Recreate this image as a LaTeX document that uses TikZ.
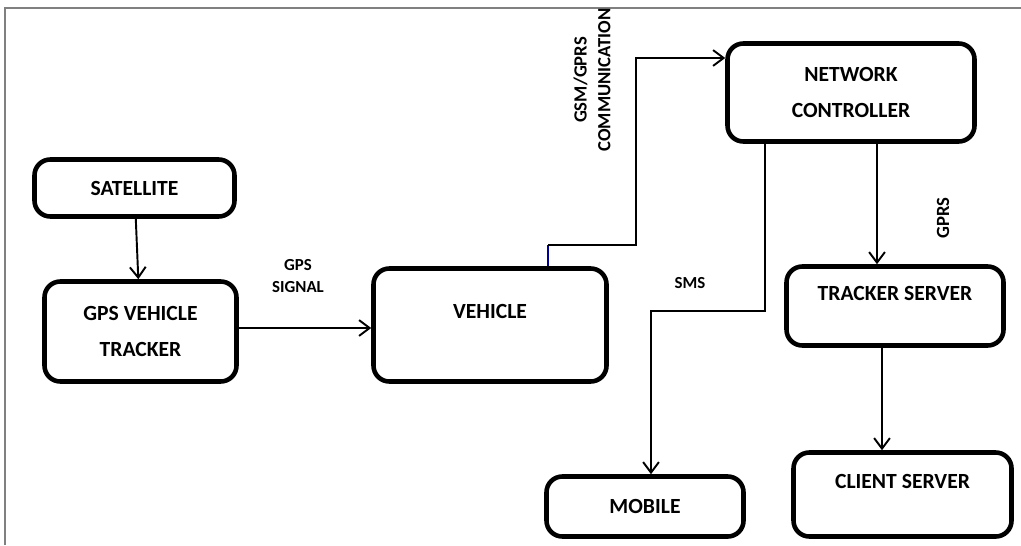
\documentclass[tikz,border=0pt]{standalone}
\usepackage{fontspec}
\setmainfont{Carlito}
\usepackage{tikz}
\usetikzlibrary{arrows.meta}

\newcommand{\boxfont}{\fontsize{12.3}{20.4}\selectfont\bfseries}
\newcommand{\tagfont}{\fontsize{9.6}{13}\selectfont\bfseries}
\newcommand{\sidefont}{\fontsize{10.6}{13.6}\selectfont\bfseries}

\begin{document}
\begin{tikzpicture}[align=center,
  box/.style={draw, line width=2.6pt, rounded corners=9pt, font=\boxfont, inner sep=0pt},
  tag/.style={font=\tagfont, inner sep=0pt},
  sidetag/.style={font=\sidefont, inner sep=0pt, rotate=90},
  link/.style={line width=1.1pt, -{Straight Barb[length=6pt,width=9pt,line width=1.1pt]}}]
\useasboundingbox (0,0) rectangle (20.42,10.9);
%frame
\draw[gray, line width=0.6pt] (0.1,0) -- (0.1,10.74) -- (20.42,10.74);

%nodes
\node (SAT) [box, minimum width=4.0cm, minimum height=1.14cm] at (2.69,7.14) {SATELLITE};
\node (GVT) [box, minimum width=3.84cm, minimum height=2.0cm] at (2.81,4.27) {GPS VEHICLE\\TRACKER};
\node (VEH) [box, minimum width=4.66cm, minimum height=2.26cm, text depth=15pt] at (9.8,4.4) {VEHICLE};
\node (NC) [box, minimum width=4.94cm, minimum height=1.96cm] at (17.02,9.05) {NETWORK\\CONTROLLER};
\node (TS) [box, minimum width=4.34cm, minimum height=1.58cm, text depth=14pt] at (17.9,4.78) {TRACKER SERVER};
\node (MOB) [box, minimum width=3.94cm, minimum height=1.2cm] at (12.9,0.77) {MOBILE};
\node (CS) [box, minimum width=4.36cm, minimum height=1.68cm, text depth=15pt] at (18.05,1.01) {CLIENT SERVER};

\node (gpssig) [tag] at (5.96,5.38) {GPS\\SIGNAL};
\node (gsm) [sidetag] at (11.84,9.3) {GSM/GPRS\\COMMUNICATION};
\node (sms) [tag] at (13.8,5.24) {SMS};
\node (gprs) [sidetag] at (18.86,6.54) {GPRS};

\coordinate (gsmA) at (10.96,6.0);
\coordinate (gsmB) at (12.72,6.0);
\coordinate (gsmC) at (12.72,9.74);
\coordinate (smsR) at (15.3,4.68);
\coordinate (smsL) at (13.02,4.68);
\coordinate (gprsX) at (17.54,0);
\coordinate (clientX) at (17.64,0);

%links
\draw[link] (SAT) -- (GVT);
\draw[link] (GVT.east |- 0,4.34) -- (VEH.west |- 0,4.34);
\draw[blue!60!black, line width=1.1pt] (VEH.north -| gsmA) -- (gsmA);
\draw[link] (gsmA) -- (gsmB) -- (gsmC) -- (gsmC -| NC.west);
\draw[link] (NC.south -| smsR) -- (smsR) -- (smsL) -- (smsL |- MOB.north);
\draw[link] (NC.south -| gprsX) -- (TS.north -| gprsX);
\draw[link] (TS.south -| clientX) -- (CS.north -| clientX);
\end{tikzpicture}
\end{document}
